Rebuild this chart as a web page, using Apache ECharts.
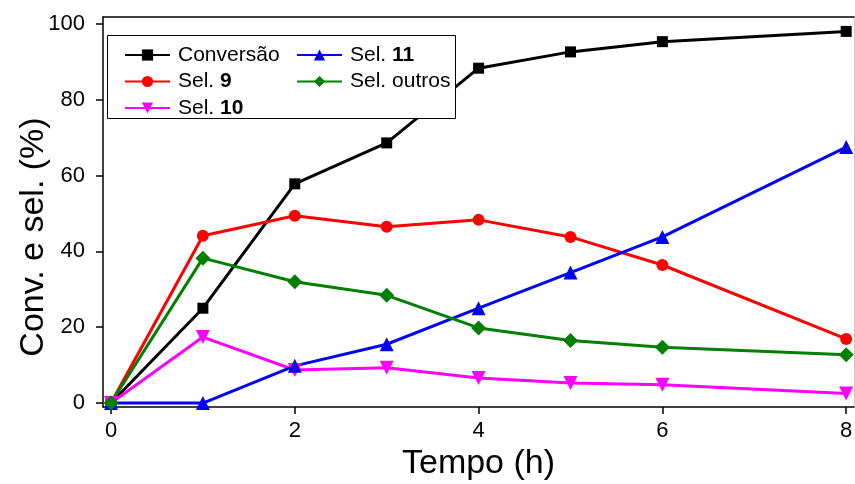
<!DOCTYPE html>
<html><head><meta charset="utf-8">
<script src="https://cdn.jsdelivr.net/npm/echarts@6/dist/echarts.min.js"></script>
<style>html,body{margin:0;padding:0;background:#fff}#c{width:855px;height:484px}</style>
</head><body><div id="c"></div>
<script>
const times = [0, 1, 2, 3, 4, 5, 6, 8];
const conversao = [0, 25.0, 57.8, 68.6, 88.3, 92.6, 95.3, 98.0];
const sel9 = [0, 44.1, 49.4, 46.5, 48.3, 43.8, 36.4, 16.9];
const sel10 = [0, 17.4, 8.7, 9.3, 6.6, 5.3, 4.8, 2.5];
const sel11 = [0, 0, 9.8, 15.5, 25.0, 34.4, 43.8, 67.5];
const selOutros = [0, 38.2, 32.0, 28.4, 19.8, 16.5, 14.7, 12.7];
const xTicks = [0, 2, 4, 6, 8];
const yTicks = [0, 20, 40, 60, 80, 100];

const FONT = 'Liberation Sans, Arial, sans-serif';
const pairs = a => times.map((t, i) => [t, a[i]]);
function mk(name, data, color, symbol, size) {
  return {
    name, type: 'line', data: pairs(data), symbol, symbolSize: size,
    itemStyle: { color }, lineStyle: { color, width: 3 }, z: 3
  };
}
const chart = echarts.init(document.getElementById('c'), null, { renderer: 'canvas' });
const rich = {
  b: { fontWeight: 'bold', fontSize: 21, fontFamily: FONT, color: '#000', lineHeight: 26 },
  n: { fontSize: 21, fontFamily: FONT, color: '#000', lineHeight: 26 }
};
function fmt(name) {
  const m = name.match(/^Sel\. (\d+)$/);
  if (m) return '{n|Sel. }{b|' + m[1] + '}';
  return '{n|' + name + '}';
}
const legendCommon = {
  orient: 'vertical', itemWidth: 45, itemHeight: 14, itemGap: 0.5,
  formatter: fmt,
  textStyle: { rich, fontSize: 21, fontFamily: FONT, color: '#000', padding: [0, 0, 0, 3], lineHeight: 26 }
};
chart.setOption({
  animation: false,
  backgroundColor: '#fff',
  grid: { left: 103, top: 17, right: 1, bottom: 77, containLabel: false, outerBoundsMode: 'none' },
  graphic: [{
    type: 'rect', left: 107, top: 35, z: 5,
    shape: { width: 348, height: 83 },
    style: { fill: '#fff', stroke: '#000', lineWidth: 1 }
  }],
  legend: [
    Object.assign({ left: 119, top: 37, data: ['Conversão', 'Sel. 9', 'Sel. 10'], z: 10 }, legendCommon),
    Object.assign({ left: 291, top: 37, data: ['Sel. 11', 'Sel. outros'], z: 10 }, legendCommon)
  ],
  xAxis: [{
    type: 'value', min: -0.087, max: 8.085,
    name: 'Tempo (h)', nameLocation: 'middle', nameGap: 40, nameMoveOverlap: false,
    nameTextStyle: { fontSize: 34, fontFamily: FONT, color: '#000' },
    axisLine: { onZero: false, lineStyle: { color: '#000', width: 1.5 } },
    axisTick: { show: true, length: 7, customValues: xTicks, lineStyle: { color: '#000', width: 1.5 } },
    axisLabel: { customValues: xTicks, fontSize: 22, fontFamily: FONT, color: '#000', margin: 13 },
    splitLine: { show: false }
  }, {
    type: 'value', position: 'top', min: -0.087, max: 8.085,
    axisLine: { show: true, onZero: false, lineStyle: { color: '#000', width: 1.5 } },
    axisTick: { show: false }, axisLabel: { show: false }, splitLine: { show: false }
  }],
  yAxis: [{
    type: 'value', min: -1.05, max: 101.8,
    name: 'Conv. e sel. (%)', nameLocation: 'middle', nameGap: 52, nameMoveOverlap: false,
    nameTextStyle: { fontSize: 34, fontFamily: FONT, color: '#000', padding: [0, 50, 0, 0] },
    axisLine: { show: true, onZero: false, lineStyle: { color: '#000', width: 1.5 } },
    axisTick: { show: true, length: 7, customValues: yTicks, lineStyle: { color: '#000', width: 1.5 } },
    axisLabel: { customValues: yTicks, fontSize: 22, fontFamily: FONT, color: '#000', margin: 18 },
    splitLine: { show: false }
  }, {
    type: 'value', position: 'right', min: -1.05, max: 101.8,
    axisLine: { show: true, onZero: false, lineStyle: { color: '#c8c8c8', width: 1 } },
    axisTick: { show: false }, axisLabel: { show: false }, splitLine: { show: false }
  }],
  series: [
    mk('Conversão', conversao, '#000000', 'rect', 11),
    mk('Sel. 9', sel9, '#ff0000', 'circle', 12),
    mk('Sel. 10', sel10, '#ff00ff', 'path://M0,0 L10,0 L5,9 Z', 14),
    mk('Sel. 11', sel11, '#0000ff', 'triangle', 14),
    mk('Sel. outros', selOutros, '#008000', 'diamond', 15)
  ]
});
</script></body></html>
